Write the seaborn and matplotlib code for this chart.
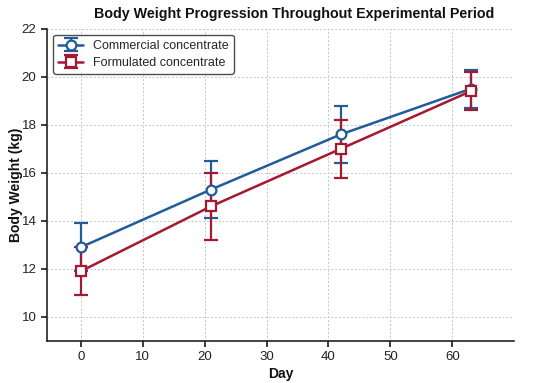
import matplotlib
matplotlib.use("Agg")
import matplotlib.pyplot as plt
import seaborn as sns

# Data
days = [0, 21, 42, 63]
commercial_mean = [12.9, 15.3, 17.6, 19.5]
commercial_sd = [1.0, 1.2, 1.2, 0.8]
formulated_mean = [11.9, 14.6, 17.0, 19.4]
formulated_sd = [1.0, 1.4, 1.2, 0.8]

BLUE = "#1f5c99"
RED = "#a5182f"

sns.set_theme(style="ticks")
plt.rcParams["font.family"] = ["Liberation Sans", "DejaVu Sans"]

fig, ax = plt.subplots(figsize=(5.5, 3.83), dpi=100)

ax.errorbar(days, commercial_mean, yerr=commercial_sd, color=BLUE, marker="o",
            markersize=7, markerfacecolor="white", markeredgewidth=1.6,
            linewidth=1.8, capsize=5, capthick=1.6, elinewidth=1.6,
            label="Commercial concentrate", zorder=3)
ax.errorbar(days, formulated_mean, yerr=formulated_sd, color=RED, marker="s",
            markersize=7, markerfacecolor="white", markeredgewidth=1.6,
            linewidth=1.8, capsize=5, capthick=1.6, elinewidth=1.6,
            label="Formulated concentrate", zorder=3)

ax.set_xlim(-5.5, 70)
ax.set_ylim(9, 22)
ax.set_xticks(range(0, 70, 10))
ax.set_yticks(range(10, 23, 2))
ax.grid(True, linestyle=(0, (2, 2)), color="#c4c4c4", linewidth=0.7)
ax.set_axisbelow(True)

ax.set_xlabel("Day", fontsize=10, fontweight="bold", color="#111111", labelpad=3)
ax.set_ylabel("Body Weight (kg)", fontsize=10, fontweight="bold", color="#111111",
              labelpad=-1)
ax.set_title("Body Weight Progression Throughout Experimental Period",
             fontsize=10.3, fontweight="bold", color="#111111", pad=8, x=0.53)
ax.tick_params(labelsize=9.5, colors="#222222", length=4)
for s in ["left", "bottom"]:
    ax.spines[s].set_color("#222222")
    ax.spines[s].set_linewidth(1.2)
sns.despine(ax=ax)

leg = ax.legend(loc="upper left", fontsize=9, frameon=True, fancybox=True,
                edgecolor="#222222", borderpad=0.4, handlelength=2,
                labelspacing=0.4)
leg.get_frame().set_linewidth(1.0)

plt.subplots_adjust(left=0.085, right=0.935, top=0.925, bottom=0.11)
fig.savefig("out.png", dpi=100)
